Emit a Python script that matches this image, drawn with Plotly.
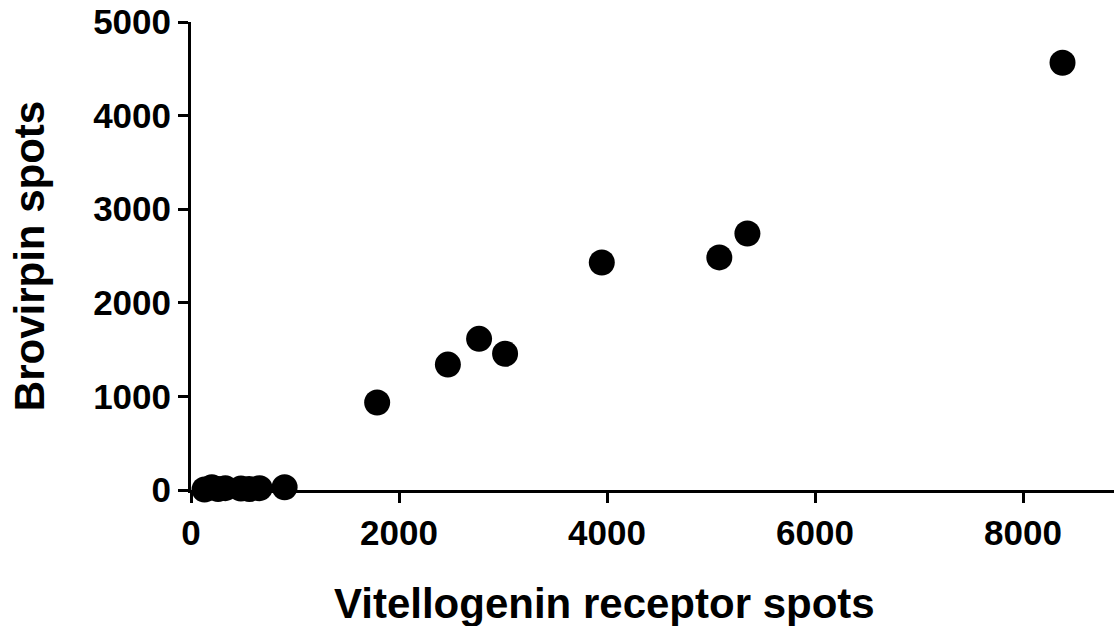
import plotly.graph_objects as go

vitellogenin_receptor = [130, 200, 260, 330, 480, 560, 660, 900,
                         1790, 2470, 2770, 3020, 3950, 5080, 5350, 8380]
brovirpin = [5, 30, 10, 20, 15, 10, 20, 30,
             935, 1340, 1615, 1455, 2430, 2485, 2740, 4565]

x_ticks = [0, 2000, 4000, 6000, 8000]
y_ticks = [0, 1000, 2000, 3000, 4000, 5000]

fig = go.Figure()
fig.add_trace(go.Scatter(
    x=vitellogenin_receptor, y=brovirpin, mode="markers",
    marker=dict(color="black", size=26, line=dict(width=0)),
    cliponaxis=False, showlegend=False))

font_family = "Liberation Sans, Arial, sans-serif"
fig.update_layout(
    width=1114, height=626,
    paper_bgcolor="white", plot_bgcolor="white",
    margin=dict(l=191, r=0, t=22, b=136),
    font=dict(family=font_family, color="black"),
    xaxis=dict(
        range=[0, 8875], tickvals=x_ticks, ticktext=[str(v) for v in x_ticks],
        showgrid=False, zeroline=False, showline=True, linecolor="black", linewidth=3,
        ticks="outside", ticklen=10, tickwidth=3, tickcolor="black",
        tickfont=dict(size=35, family=font_family, weight="bold"),
    ),
    yaxis=dict(
        range=[0, 5000], tickvals=y_ticks, ticktext=[str(v) for v in y_ticks],
        showgrid=False, zeroline=False, showline=True, linecolor="black", linewidth=3,
        ticks="outside", ticklen=10, tickwidth=3, tickcolor="black",
        tickfont=dict(size=35, family=font_family, weight="bold"),
        title=dict(text="<b>Brovirpin spots</b>", font=dict(size=42), standoff=36),
    ),
    annotations=[dict(
        text="<b>Vitellogenin receptor spots</b>", xref="paper", yref="paper",
        x=0.4475, y=-0.243, xanchor="center", yanchor="middle", showarrow=False,
        font=dict(size=42, family=font_family, color="black"))],
)
fig.write_html("out.html")
